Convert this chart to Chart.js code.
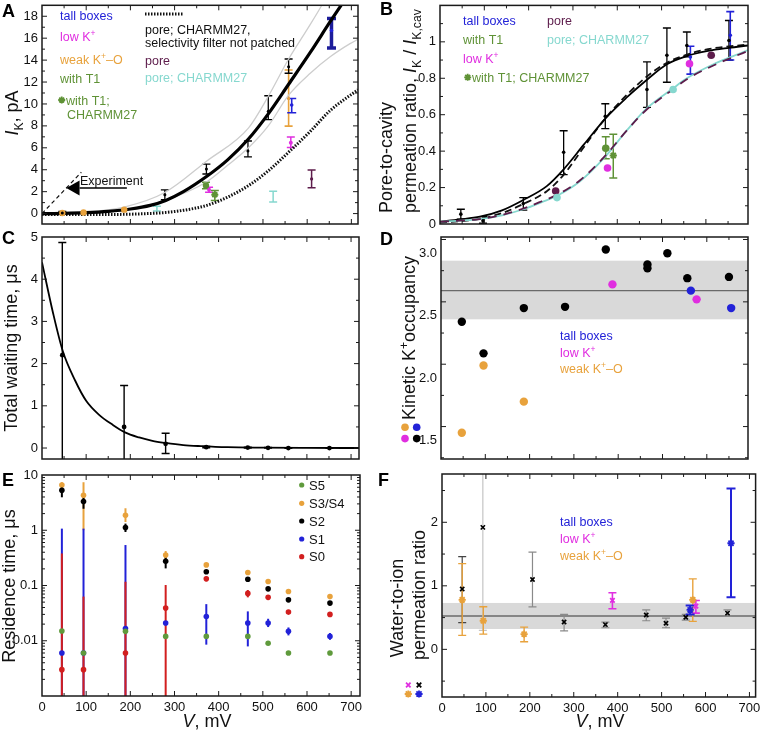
<!DOCTYPE html>
<html lang="en">
<head>
<meta charset="UTF-8">
<title>K+ permeation panels</title>
<script src="https://cdn.jsdelivr.net/npm/chart.js@4.4.0/dist/chart.umd.min.js"></script>
<style>
  body { margin: 0; background: #fff; }
  #wrap { position: relative; width: 761px; height: 736px; overflow: hidden; }
  #wrap canvas { position: absolute; left: 0; top: 0; }
</style>
</head>
<body>
<div id="wrap">
  <canvas id="cA" width="761" height="736"></canvas>
  <canvas id="cB" width="761" height="736"></canvas>
  <canvas id="cC" width="761" height="736"></canvas>
  <canvas id="cD" width="761" height="736"></canvas>
  <canvas id="cE" width="761" height="736"></canvas>
  <canvas id="cF" width="761" height="736"></canvas>
</div>
<script>
// ---------- data ----------
const X_TICKS = [0, 100, 200, 300, 400, 500, 600, 700];

// A: current vs voltage
const A_YTICKS = [0, 2, 4, 6, 8, 10, 12, 14, 16, 18];
const A_FIT_V = [0, 50, 100, 150, 200, 245, 280, 320, 373, 420, 467, 512, 558, 607, 652, 700];
const A_FIT_I = [0, 0.02, 0.08, 0.2, 0.42, 0.75, 1.2, 2.0, 3.4, 4.9, 6.8, 9.1, 11.8, 14.7, 17.5, 20.4];
const A_UP_V = [0, 100, 186, 279, 373, 467, 512, 558, 600, 633, 665];
const A_UP_I = [0, 0.15, 0.6, 1.95, 4.8, 7.8, 10.7, 14.1, 16.8, 19, 21.5];
const A_LOW_V = [0, 100, 186, 279, 373, 420, 467, 512, 558, 607, 652, 697, 715];
const A_LOW_I = [0, 0.05, 0.3, 1.2, 2.9, 4.4, 6.0, 8.0, 10.8, 12.8, 14.3, 15.5, 15.9];
const A_DOT_V = [0, 150, 250, 279, 320, 373, 420, 467, 512, 558, 607, 652, 715];
const A_DOT_I = [-0.08, -0.08, 0.02, 0.1, 0.3, 0.75, 1.5, 2.55, 3.9, 5.6, 7.5, 9.4, 11.3];
const A_EXP_V = [0, 89];
const A_EXP_I = [0, 3.77];
const A_BLACK_V = [46, 278, 372, 466, 512, 558];
const A_BLACK_I = [0.05, 1.72, 4.06, 5.72, 9.33, 13.4];
const A_BLACK_HI = [0.2, 2.17, 4.52, 6.62, 10.75, 14.1];
const A_BLACK_LO = [-0.05, 1.26, 3.61, 5.18, 8.58, 12.8];
const A_ORA_V = [46, 94, 186, 558];
const A_ORA_I = [0.05, 0.1, 0.36, 10.5];
const A_ORA_HI = [null, null, null, 13.1];
const A_ORA_LO = [null, null, null, 7.98];
const A_BLUE_V = [565, 655];
const A_BLUE_I = [9.9, 16.7];
const A_BLUE_HI = [10.5, 17.8];
const A_BLUE_LO = [9.2, 15.1];
const A_MAG_V = [378, 563];
const A_MAG_I = [2.17, 6.47];
const A_MAG_HI = [2.4, 6.98];
const A_MAG_LO = [1.95, 6.02];
const A_GRN_V = [371], A_GRN_I = [2.56], A_GRN_HI = [2.86], A_GRN_LO = [2.26];
const A_GST_V = [391], A_GST_I = [1.72], A_GST_HI = [2.1], A_GST_LO = [1.2];
const A_PUR_V = [610], A_PUR_I = [3.16], A_PUR_HI = [3.98], A_PUR_LO = [2.35];
const A_CYA_V = [260, 523], A_CYA_I = [0.45, 1.5], A_CYA_HI = [0.66, 2.04], A_CYA_LO = [0.24, 1.05];

// B: pore-to-cavity ratio
const B_YTICKS = [0, 0.2, 0.4, 0.6, 0.8, 1];
const B_FIT_V = [0, 45, 90, 140, 188, 241, 279, 324, 373, 422, 467, 512, 557, 605, 652, 695];
const B_SOLID = [0.013, 0.025, 0.04, 0.075, 0.132, 0.208, 0.30, 0.434, 0.579, 0.696, 0.792, 0.877, 0.922, 0.95, 0.967, 0.98];
const B_DASH = [0.008, 0.015, 0.028, 0.06, 0.11, 0.18, 0.27, 0.42, 0.58, 0.71, 0.81, 0.885, 0.93, 0.96, 0.975, 0.985];
const B_C27_V = [0, 45, 90, 140, 188, 230, 264, 316, 373, 422, 467, 526, 557, 617, 660, 695];
const B_CYAN = [0.012, 0.018, 0.027, 0.048, 0.081, 0.12, 0.155, 0.235, 0.37, 0.515, 0.636, 0.745, 0.80, 0.877, 0.92, 0.955];
const B_PORE = [0.012, 0.018, 0.027, 0.05, 0.085, 0.125, 0.16, 0.24, 0.375, 0.515, 0.63, 0.74, 0.795, 0.87, 0.915, 0.95];
const B_BLACK_V = [47, 97, 188, 279, 373, 467, 512, 557, 652];
const B_BLACK_R = [0.054, 0.018, 0.112, 0.394, 0.591, 0.738, 0.926, 0.98, 1.007];
const B_BLACK_HI = [0.081, 0.04, 0.145, 0.512, 0.66, 0.89, 1.076, 1.054, 1.117];
const B_BLACK_LO = [0.027, 0.004, 0.076, 0.271, 0.524, 0.64, 0.778, 0.917, 0.9];
const B_BLUE_V = [565, 655], B_BLUE_R = [0.917, 1.036], B_BLUE_HI = [0.976, 1.166], B_BLUE_LO = [0.823, 0.9];
const B_MAG_V = [378, 563], B_MAG_R = [0.307, 0.88];
const B_PUR_V = [261, 612], B_PUR_R = [0.181, 0.926];
const B_CYA_V = [264, 526], B_CYA_R = [0.145, 0.738];
const B_GRN_V = [374], B_GRN_R = [0.416], B_GRN_HI = [0.479], B_GRN_LO = [0.358];
const B_GST_V = [391], B_GST_R = [0.376], B_GST_HI = [0.492], B_GST_LO = [0.253];

// C: total waiting time
const C_YTICKS = [0, 1, 2, 3, 4, 5];
const C_FIT_V = [0, 25, 47, 75, 100, 130, 160, 188, 220, 250, 280, 320, 360, 420, 500, 600, 720];
const C_FIT_T = [4.4, 3.2, 2.3, 1.6, 1.12, 0.78, 0.55, 0.37, 0.25, 0.17, 0.12, 0.07, 0.045, 0.02, 0.01, 0.004, 0];
const C_V = [46, 186, 280, 372, 466, 512, 558, 651];
const C_T = [2.2, 0.5, 0.1, 0.02, 0.01, 0.005, 0, 0];
const C_HI = [4.87, 1.48, 0.35, 0.035, 0.02, 0.012, 0.006, 0.006];
const C_LO = [-1, -1, -0.13, 0.005, 0, 0, -0.006, -0.006];

// D: kinetic occupancy
const D_YTICKS = [1.5, 2.0, 2.5, 3.0];
const D_BLACK_V = [47, 96, 187, 280, 372, 466, 466, 511, 556, 650];
const D_BLACK_N = [2.34, 2.087, 2.45, 2.46, 2.92, 2.80, 2.77, 2.89, 2.69, 2.70];
const D_ORA_V = [47, 96, 187], D_ORA_N = [1.45, 1.99, 1.70];
const D_MAG_V = [387, 577], D_MAG_N = [2.64, 2.52];
const D_BLUE_V = [564, 655], D_BLUE_N = [2.59, 2.45];
const D_BAND = [2.36, 2.59, 2.83];

// E: residence times per site
const E_YTICKS = [0.01, 0.1, 1, 10];
const E_V = [45, 94, 189, 280, 372, 466, 512, 558, 652];
const E_S5 = [0.015, 0.006, 0.0148, 0.012, 0.012, 0.012, 0.009, 0.006, 0.006];
const E_S34 = [6.6, 4.3, 1.86, 0.355, 0.236, 0.172, 0.118, 0.078, 0.063];
const E_S34_HI = [7.4, 7.4, 2.5, 0.42, null, null, null, null, null];
const E_S34_LO = [6.0, 1.0, 1.41, 0.3, null, null, null, null, null];
const E_S2 = [5.3, 3.3, 1.12, 0.275, 0.177, 0.13, 0.087, 0.055, 0.048];
const E_S2_HI = [6.5, 4.0, 1.32, 0.33, null, null, null, null, null];
const E_S2_LO = [3.95, 2.45, 0.93, 0.204, null, null, null, null, null];
const E_S1 = [0.006, 0.006, 0.0166, 0.021, 0.0275, 0.021, 0.021, 0.0148, 0.012];
const E_S1_HI = [1.07, 1.07, 0.54, null, 0.046, 0.034, 0.025, 0.0174, 0.0138];
const E_S1_LO = [0.0005, 0.0005, 0.0005, null, 0.0085, 0.0079, 0.0177, 0.0125, 0.0104];
const E_S0 = [0.003, 0.003, 0.006, 0.039, 0.132, 0.072, 0.061, 0.033, 0.030];
const E_S0_HI = [0.38, 0.063, 0.117, 0.102, 0.145, 0.083, null, null, null];
const E_S0_LO = [0.0005, 0.0005, 0.0005, 0.0005, 0.12, 0.061, null, null, null];

// F: water-to-ion ratio
const F_YTICKS = [0, 1, 2];
const F_BLACK_V = [46, 93, 206, 278, 372, 465, 510, 555, 650];
const F_BLACK_R = [0.95, 1.92, 1.10, 0.43, 0.39, 0.54, 0.41, 0.505, 0.57];
const F_BLACK_HI = [1.46, 3.0, 1.53, 0.55, 0.43, 0.62, 0.49, 0.55, 0.62];
const F_BLACK_LO = [0.42, 0.3, 0.67, 0.29, 0.34, 0.45, 0.34, 0.46, 0.52];
const F_ORA_V = [46, 94, 187, 571], F_ORA_R = [0.78, 0.45, 0.24, 0.78];
const F_ORA_HI = [1.35, 0.67, 0.35, 1.11], F_ORA_LO = [0.22, 0.24, 0.12, 0.44];
const F_MAG_V = [388, 578], F_MAG_R = [0.77, 0.68], F_MAG_HI = [0.89, 0.77], F_MAG_LO = [0.64, 0.57];
const F_BLUE_V = [565, 658], F_BLUE_R = [0.62, 1.67], F_BLUE_HI = [0.69, 2.53], F_BLUE_LO = [0.55, 0.82];
const F_BAND = [0.32, 0.525, 0.73];

// ---------- style ----------
const FONT = '"Liberation Sans", Arial, Helvetica, sans-serif';
Chart.defaults.font.family = FONT;
Chart.defaults.font.size = 13;
Chart.defaults.color = '#111';

const BLUE = '#2222d8', MAG = '#e02ee0', ORA = '#e8a23c', GRN = '#5f9236', PUR = '#5d1c4b',
      CYA = '#86d8cf', RED = '#d21f1f', S5G = '#5f9a3c', GRAY = '#cdcdcd';

const pts = (xs, ys) => xs.map((x, i) => ({x, y: ys[i]}));

function curve(xs, ys, color, width, dash) {
  return { type: 'line', data: pts(xs, ys), borderColor: color, borderWidth: width, borderDash: dash || [],
           pointRadius: 0, showLine: true, fill: false, cubicInterpolationMode: 'monotone' };
}
function dots(xs, ys, color, r, extra) {
  return Object.assign({ type: 'scatter', data: pts(xs, ys), pointRadius: r, pointHoverRadius: r,
           pointBackgroundColor: color, pointBorderColor: color, pointBorderWidth: 0, pointStyle: 'circle' }, extra || {});
}
function marks(xs, ys, color, r, style, extra) {
  return Object.assign({ type: 'scatter', data: pts(xs, ys), pointRadius: r, pointHoverRadius: r, pointStyle: style,
           pointBackgroundColor: color, pointBorderColor: color, pointBorderWidth: 1.8 }, extra || {});
}

// ---------- plugins ----------
const band = {
  id: 'band',
  beforeDatasetsDraw(chart, args, o) {
    const {ctx, chartArea: a, scales: {y}} = chart;
    const y1 = y.getPixelForValue(o.v[2]), y2 = y.getPixelForValue(o.v[0]), ym = y.getPixelForValue(o.v[1]);
    ctx.save();
    ctx.fillStyle = '#d9d9d9';
    ctx.fillRect(a.left, y1, a.right - a.left, y2 - y1);
    ctx.strokeStyle = '#6a6a6a'; ctx.lineWidth = 1.3;
    ctx.beginPath(); ctx.moveTo(a.left, ym); ctx.lineTo(a.right, ym); ctx.stroke();
    ctx.restore();
  }
};

const errorBars = {
  id: 'errorBars',
  beforeDatasetsDraw(chart) {
    const {ctx, chartArea: a, scales: {y}} = chart;
    ctx.save();
    ctx.beginPath(); ctx.rect(a.left, a.top, a.right - a.left, a.bottom - a.top); ctx.clip();
    chart.data.datasets.forEach((ds, k) => {
      if (!ds.errHi) return;
      const meta = chart.getDatasetMeta(k);
      meta.data.forEach((el, i) => {
        const hi = ds.errHi[i], lo = ds.errLo[i];
        if (hi == null) return;
        const pick = v => Array.isArray(v) ? v[i] : v;
        const x = el.x, y1 = y.getPixelForValue(hi), y2 = y.getPixelForValue(lo);
        const cap = pick(ds.errCap) || 0;
        ctx.strokeStyle = pick(ds.errColor) || ds.pointBackgroundColor;
        ctx.lineWidth = pick(ds.errWidth) || 1.3;
        ctx.beginPath();
        ctx.moveTo(x, y1); ctx.lineTo(x, y2);
        if (cap) {
          ctx.moveTo(x - cap, y1); ctx.lineTo(x + cap, y1);
          ctx.moveTo(x - cap, y2); ctx.lineTo(x + cap, y2);
        }
        ctx.stroke();
      });
    });
    ctx.restore();
  }
};

// frame with inward ticks on all four sides
const frame = {
  id: 'frame',
  afterDatasetsDraw(chart, args, o) {
    const {ctx, chartArea: a, scales: {x, y}} = chart;
    ctx.save();
    ctx.strokeStyle = '#1a1a1a';
    ctx.lineWidth = 1;
    ctx.beginPath();
    const nx = Math.round(o.xMajor / o.xMinor);
    for (let k = Math.ceil(x.min / o.xMinor); k * o.xMinor <= x.max; k++) {
      const px = x.getPixelForValue(k * o.xMinor);
      if (px < a.left + 1 || px > a.right - 1) continue;
      const len = k % nx === 0 ? 5 : 3;
      ctx.moveTo(px, a.bottom); ctx.lineTo(px, a.bottom - len);
      ctx.moveTo(px, a.top); ctx.lineTo(px, a.top + len);
    }
    const yv = [];
    if (o.log) {
      for (let e = -3; e <= 1; e++) for (let m = 1; m <= 9; m++) yv.push([m * Math.pow(10, e), m === 1]);
    } else {
      const ny = Math.round(o.yMajor / o.yMinor);
      for (let k = Math.ceil(y.min / o.yMinor - 1e-9); k * o.yMinor <= y.max + 1e-9; k++) yv.push([k * o.yMinor, k % ny === 0]);
    }
    for (const [v, major] of yv) {
      const py = y.getPixelForValue(v);
      if (py < a.top + 1 || py > a.bottom - 1) continue;
      const len = major ? 5 : 3;
      ctx.moveTo(a.left, py); ctx.lineTo(a.left + len, py);
      ctx.moveTo(a.right, py); ctx.lineTo(a.right - len, py);
    }
    ctx.stroke();
    ctx.lineWidth = 1.5;
    ctx.strokeRect(a.left, a.top, a.right - a.left, a.bottom - a.top);
    ctx.restore();
  }
};

function drawRich(ctx, it) {
  const size = it.size || 12.5;
  ctx.save();
  ctx.translate(it.x, it.y);
  if (it.rot) ctx.rotate(it.rot);
  ctx.fillStyle = it.color || '#111';
  ctx.textBaseline = 'alphabetic';
  ctx.textAlign = 'left';
  const fontOf = st => (st.includes('i') ? 'italic ' : '') + (st.includes('b') ? 'bold ' : '') +
    ((st.includes('s') || st.includes('p')) ? size * 0.68 : size) + 'px ' + FONT;
  let w = 0;
  for (const [t, st] of it.runs) { ctx.font = fontOf(st); w += ctx.measureText(t).width; }
  let cx = it.align === 'center' ? -w / 2 : 0;
  for (const [t, st] of it.runs) {
    ctx.font = fontOf(st);
    const dy = st.includes('s') ? size * 0.28 : st.includes('p') ? -size * 0.4 : 0;
    ctx.fillText(t, cx, dy);
    cx += ctx.measureText(t).width;
  }
  ctx.restore();
}
function drawSym(ctx, s) {
  ctx.save();
  ctx.fillStyle = ctx.strokeStyle = s.color;
  ctx.lineWidth = s.w || 1.8;
  ctx.beginPath();
  if (s.sym === 'dot') { ctx.arc(s.x, s.y, s.r, 0, Math.PI * 2); ctx.fill(); }
  else {
    const angs = s.sym === 'x' ? [45, 135] : [0, 45, 90, 135];
    for (const g of angs) {
      const dx = s.r * Math.cos(g * Math.PI / 180), dy = s.r * Math.sin(g * Math.PI / 180);
      ctx.moveTo(s.x - dx, s.y - dy); ctx.lineTo(s.x + dx, s.y + dy);
    }
    ctx.stroke();
  }
  ctx.restore();
}
function drawLine(ctx, it) {
  ctx.save();
  ctx.strokeStyle = it.color || '#111'; ctx.lineWidth = it.width || 1;
  ctx.setLineDash(it.dash || []);
  ctx.beginPath(); ctx.moveTo(it.line[0], it.line[1]); ctx.lineTo(it.line[2], it.line[3]); ctx.stroke();
  ctx.restore();
}
function drawArrow(chart, it) {
  const {ctx, scales: {x, y}} = chart;
  const [tipV, val, baseV, tailV] = it.arrow;
  const tip = x.getPixelForValue(tipV), base = x.getPixelForValue(baseV), tail = x.getPixelForValue(tailV);
  const py = y.getPixelForValue(val);
  ctx.save();
  ctx.fillStyle = ctx.strokeStyle = '#000';
  ctx.beginPath(); ctx.moveTo(tip, py); ctx.lineTo(base, py - 7.5); ctx.lineTo(base, py + 7.5); ctx.closePath(); ctx.fill();
  ctx.lineWidth = 1.5;
  ctx.beginPath(); ctx.moveTo(base, py); ctx.lineTo(tail, py); ctx.stroke();
  ctx.restore();
}

const TX = (x, y, runs, color, size, extra) =>
  Object.assign({x, y, runs: typeof runs === 'string' ? [[runs, '']] : runs, color: color || '#111', size: size || 12.5}, extra || {});
const LETTER = (l, x, y) => TX(x, y, [[l, 'b']], '#000', 18);
const YTITLE = (x, y, runs, extra) => TX(x, y, runs, '#111', 18, Object.assign({rot: -Math.PI / 2, align: 'center'}, extra || {}));
const KP = [['K', ''], ['+', 'p']];

const NOTES = {
  cA: [
    LETTER('A', 2, 17),
    YTITLE(18, 113, [['I', 'i'], ['K', 's'], [', pA', '']]),
    TX(60, 19.5, 'tall boxes', BLUE),
    TX(60, 41, [['low ', '']].concat(KP), MAG),
    TX(60, 63.8, [['weak ', '']].concat(KP, [['–O', '']]), ORA),
    TX(60, 82.8, 'with T1', GRN),
    {sym: 'star', x: 61.7, y: 100, r: 3.5, color: GRN},
    TX(66, 104.5, 'with T1;', GRN),
    TX(67, 118.5, 'CHARMM27', GRN),
    {line: [145, 14, 183, 14], width: 3, dash: [1.5, 1.5]},
    TX(145, 33.5, 'pore; CHARMM27,'),
    TX(145, 46.5, 'selectivity filter not patched'),
    TX(145, 64.5, 'pore', PUR),
    TX(145, 81.5, 'pore; CHARMM27', CYA),
    TX(80, 185, 'Experiment'),
    {arrow: [55, 2.33, 85, 192]}
  ],
  cB: [
    LETTER('B', 380, 15),
    YTITLE(392, 213, 'Pore-to-cavity', {align: 'left'}),
    YTITLE(416, 213, [['permeation ratio, ', ''], ['I', 'i'], ['K', 's'], [' / ', ''], ['I', 'i'], ['K,cav', 's']], {align: 'left'}),
    TX(463, 24.5, 'tall boxes', BLUE),
    TX(463, 43.5, 'with T1', GRN),
    TX(463, 62.5, [['low ', '']].concat(KP), MAG),
    {sym: 'star', x: 467.7, y: 77.3, r: 3.5, color: GRN},
    TX(472, 81.8, 'with T1; CHARMM27', GRN),
    TX(547, 24.5, 'pore', PUR),
    TX(547, 43.5, 'pore; CHARMM27', CYA)
  ],
  cC: [
    LETTER('C', 2, 244),
    YTITLE(17, 348, 'Total waiting time, μs')
  ],
  cD: [
    LETTER('D', 380, 245),
    YTITLE(415, 338, [['Kinetic K', ''], ['+', 'p'], ['occupancy', '']]),
    TX(560, 339.5, 'tall boxes', BLUE),
    TX(560, 357, [['low ', '']].concat(KP), MAG),
    TX(560, 373, [['weak ', '']].concat(KP, [['–O', '']]), ORA),
    {sym: 'dot', x: 405, y: 427.3, r: 3.8, color: ORA},
    {sym: 'dot', x: 416.7, y: 427.3, r: 3.8, color: BLUE},
    {sym: 'dot', x: 405, y: 438.6, r: 3.8, color: MAG},
    {sym: 'dot', x: 416.7, y: 438.6, r: 3.8, color: '#000'}
  ],
  cE: [
    LETTER('E', 2, 486),
    YTITLE(15, 586, 'Residence time, μs'),
    TX(207, 727, [['V', 'i'], [', mV', '']], '#111', 18, {align: 'center'}),
    {sym: 'dot', x: 301.7, y: 485, r: 2.6, color: S5G}, TX(309, 489.5, 'S5', '#111', 13),
    {sym: 'dot', x: 301.7, y: 503.3, r: 2.6, color: ORA}, TX(309, 507.8, 'S3/S4', '#111', 13),
    {sym: 'dot', x: 301.7, y: 521, r: 2.6, color: '#000'}, TX(309, 525.5, 'S2', '#111', 13),
    {sym: 'dot', x: 301.7, y: 539, r: 2.6, color: BLUE}, TX(309, 543.5, 'S1', '#111', 13),
    {sym: 'dot', x: 301.7, y: 556.7, r: 2.6, color: RED}, TX(309, 561.2, 'S0', '#111', 13)
  ],
  cF: [
    LETTER('F', 378, 486),
    YTITLE(403, 608, 'Water-to-ion'),
    YTITLE(425, 595, 'permeation ratio'),
    TX(600, 727, [['V', 'i'], [', mV', '']], '#111', 18, {align: 'center'}),
    TX(560, 525.5, 'tall boxes', BLUE),
    TX(560, 542.8, [['low ', '']].concat(KP), MAG),
    TX(560, 560.2, [['weak ', '']].concat(KP, [['–O', '']]), ORA),
    {sym: 'x', x: 408.3, y: 685, r: 3.2, color: MAG},
    {sym: 'x', x: 419, y: 685, r: 3.2, color: '#000'},
    {sym: 'star', x: 408.3, y: 694, r: 3.6, color: ORA},
    {sym: 'star', x: 419, y: 694, r: 3.6, color: BLUE}
  ]
};

const notes = {
  id: 'notes',
  afterDraw(chart) {
    for (const it of NOTES[chart.canvas.id] || []) {
      if (it.sym) drawSym(chart.ctx, it);
      else if (it.line) drawLine(chart.ctx, it);
      else if (it.arrow) drawArrow(chart, it);
      else drawRich(chart.ctx, it);
    }
  }
};

// ---------- chart builder ----------
const YW = 40, XH = 24;
function makeChart(id, c) {
  const [L, T, R, B] = c.geom;
  const datasets = c.datasets;
  datasets.forEach((d, i) => { d.order = -i; });
  return new Chart(document.getElementById(id), {
    type: 'scatter',
    data: { datasets },
    plugins: [band, errorBars, frame, notes],
    options: {
      responsive: false,
      animation: false,
      devicePixelRatio: 1,
      events: [],
      layout: { padding: { left: L - YW, top: T, right: 761 - R, bottom: 736 - B - XH } },
      plugins: {
        legend: { display: false },
        tooltip: { enabled: false },
        frame: c.frame,
        band: c.band ? { v: c.band } : false
      },
      scales: {
        x: {
          type: 'linear', min: c.x[0], max: c.x[1],
          grid: { display: false, drawTicks: false }, border: { display: false },
          ticks: { display: !!c.xLabels, padding: 4, font: { size: 13 }, color: '#111' },
          afterBuildTicks: s => { s.ticks = X_TICKS.map(v => ({ value: v })); },
          afterFit: s => { s.height = XH; s.paddingLeft = 0; s.paddingRight = 0; }
        },
        y: {
          type: c.log ? 'logarithmic' : 'linear', min: c.y[0], max: c.y[1],
          grid: { display: false, drawTicks: false }, border: { display: false },
          ticks: { padding: 4, font: { size: 13 }, color: '#111', labelOffset: c.labelOffset || 0,
                   callback: c.fmt || (v => String(v)) },
          afterBuildTicks: s => { s.ticks = c.yTicks.map(v => ({ value: v })); },
          afterFit: s => { s.width = YW; s.paddingTop = 0; s.paddingBottom = 0; }
        }
      }
    }
  });
}

// ---------- panels ----------
makeChart('cA', {
  geom: [42, 3, 358, 224], x: [0, 715], y: [-0.95, 19.0], yTicks: A_YTICKS,
  frame: { xMajor: 100, xMinor: 50, yMajor: 2, yMinor: 1 },
  datasets: [
    curve(A_UP_V, A_UP_I, GRAY, 1.3),
    curve(A_LOW_V, A_LOW_I, GRAY, 1.3),
    curve(A_DOT_V, A_DOT_I, '#111', 3, [1.5, 1.5]),
    curve(A_FIT_V, A_FIT_I, '#000', 3.2),
    curve(A_EXP_V, A_EXP_I, '#111', 1.2, [4, 3]),
    dots(A_CYA_V, A_CYA_I, CYA, 0, { errHi: A_CYA_HI, errLo: A_CYA_LO, errCap: 4, errWidth: 1.5 }),
    dots(A_PUR_V, A_PUR_I, PUR, 1.6, { errHi: A_PUR_HI, errLo: A_PUR_LO, errCap: 4, errWidth: 1.5 }),
    dots(A_GRN_V, A_GRN_I, GRN, 3.2, { errHi: A_GRN_HI, errLo: A_GRN_LO, errCap: 4, errWidth: 1.5 }),
    marks(A_GST_V, A_GST_I, GRN, 3.5, 'star', { errHi: A_GST_HI, errLo: A_GST_LO, errCap: 4, errWidth: 1.5, errColor: GRN }),
    dots(A_MAG_V, A_MAG_I, MAG, 2, { errHi: A_MAG_HI, errLo: A_MAG_LO, errCap: 4, errWidth: 1.5 }),
    dots(A_ORA_V, A_ORA_I, ORA, 0, { pointRadius: [3.2, 3.2, 3.2, 1.5], errHi: A_ORA_HI, errLo: A_ORA_LO, errCap: 4, errWidth: 1.6 }),
    dots(A_BLACK_V, A_BLACK_I, '#000', 1.5, { errHi: A_BLACK_HI, errLo: A_BLACK_LO, errCap: 4, errWidth: 1.3 }),
    dots(A_BLUE_V, A_BLUE_I, BLUE, 1.8, { errHi: A_BLUE_HI, errLo: A_BLUE_LO, errCap: 4.5, errWidth: [1.6, 3.5], errColor: ['#2222d8', '#1c1c9a'] })
  ]
});

makeChart('cB', {
  geom: [440, 2, 748, 224], x: [0, 695], y: [0, 1.2], yTicks: B_YTICKS,
  frame: { xMajor: 100, xMinor: 50, yMajor: 0.2, yMinor: 0.1 },
  datasets: [
    curve(B_FIT_V, B_DASH, '#111', 1.8, [7, 4]),
    curve(B_FIT_V, B_SOLID, '#000', 1.8),
    curve(B_C27_V, B_CYAN, CYA, 1.8),
    curve(B_C27_V, B_PORE, PUR, 1.8, [9, 7]),
    dots(B_BLACK_V, B_BLACK_R, '#000', 1.8, { errHi: B_BLACK_HI, errLo: B_BLACK_LO, errCap: 4, errWidth: 1.3 }),
    dots(B_PUR_V, B_PUR_R, PUR, 3.8),
    dots(B_CYA_V, B_CYA_R, CYA, 3.8),
    dots(B_GRN_V, B_GRN_R, GRN, 3.8, { errHi: B_GRN_HI, errLo: B_GRN_LO, errCap: 4, errWidth: 1.5 }),
    marks(B_GST_V, B_GST_R, GRN, 3.6, 'star', { errHi: B_GST_HI, errLo: B_GST_LO, errCap: 4, errWidth: 1.5, errColor: GRN }),
    dots(B_MAG_V, B_MAG_R, MAG, 3.8),
    dots(B_BLUE_V, B_BLUE_R, BLUE, 1.8, { errHi: B_BLUE_HI, errLo: B_BLUE_LO, errCap: 4, errWidth: 1.6 })
  ]
});

makeChart('cC', {
  geom: [42, 237, 359, 459], x: [0, 718], y: [-0.26, 5], yTicks: C_YTICKS,
  frame: { xMajor: 100, xMinor: 50, yMajor: 1, yMinor: 0.5 },
  datasets: [
    curve(C_FIT_V, C_FIT_T, '#000', 1.8),
    dots(C_V, C_T, '#000', 2.4, { errHi: C_HI, errLo: C_LO, errCap: 4, errWidth: 1.4 })
  ]
});

makeChart('cD', {
  geom: [441, 237, 748, 459], x: [0, 693], y: [1.24, 3.02], yTicks: D_YTICKS, labelOffset: 14,
  fmt: v => v.toFixed(1), band: D_BAND,
  frame: { xMajor: 100, xMinor: 50, yMajor: 0.5, yMinor: 0.25 },
  datasets: [
    dots(D_BLACK_V, D_BLACK_N, '#000', 4.2),
    dots(D_ORA_V, D_ORA_N, ORA, 4.2),
    dots(D_MAG_V, D_MAG_N, MAG, 4.2),
    dots(D_BLUE_V, D_BLUE_N, BLUE, 4.2)
  ]
});

makeChart('cE', {
  geom: [42, 475, 360, 696], x: [0, 720], y: [0.001, 10], log: true, yTicks: E_YTICKS, xLabels: true,
  frame: { xMajor: 100, xMinor: 50, log: true },
  datasets: [
    dots(E_V, E_S34, ORA, 2.8, { errHi: E_S34_HI, errLo: E_S34_LO, errWidth: 2 }),
    dots(E_V, E_S2, '#000', 2.8, { errHi: E_S2_HI, errLo: E_S2_LO, errWidth: 2 }),
    dots(E_V, E_S1, BLUE, 2.8, { errHi: E_S1_HI, errLo: E_S1_LO, errWidth: 2 }),
    dots(E_V, E_S0, RED, 2.8, { errHi: E_S0_HI, errLo: E_S0_LO, errWidth: 2 }),
    dots(E_V, E_S5, S5G, 2.8)
  ]
});

makeChart('cF', {
  geom: [442, 474, 758, 697], x: [0, 714], y: [-0.75, 2.76], yTicks: F_YTICKS, xLabels: true, band: F_BAND,
  frame: { xMajor: 100, xMinor: 50, yMajor: 1, yMinor: 0.5 },
  datasets: [
    marks(F_BLACK_V, F_BLACK_R, '#000', 3, 'crossRot', { pointBorderWidth: 1.6, errHi: F_BLACK_HI, errLo: F_BLACK_LO, errCap: 4, errWidth: 1.2,
      errColor: ['#444', '#c4c4c4', '#8a8a8a', '#8a8a8a', '#8a8a8a', '#8a8a8a', '#8a8a8a', '#8a8a8a', '#8a8a8a'] }),
    marks(F_ORA_V, F_ORA_R, ORA, 3.6, 'star', { errHi: F_ORA_HI, errLo: F_ORA_LO, errCap: 4, errWidth: 1.4, errColor: ORA }),
    marks(F_MAG_V, F_MAG_R, MAG, 3.2, 'crossRot', { errHi: F_MAG_HI, errLo: F_MAG_LO, errCap: 4, errWidth: 1.6, errColor: MAG }),
    marks(F_BLUE_V, F_BLUE_R, BLUE, 3.6, 'star', { errHi: F_BLUE_HI, errLo: F_BLUE_LO, errCap: 4.5, errWidth: 2, errColor: BLUE })
  ]
});
</script>
</body>
</html>
